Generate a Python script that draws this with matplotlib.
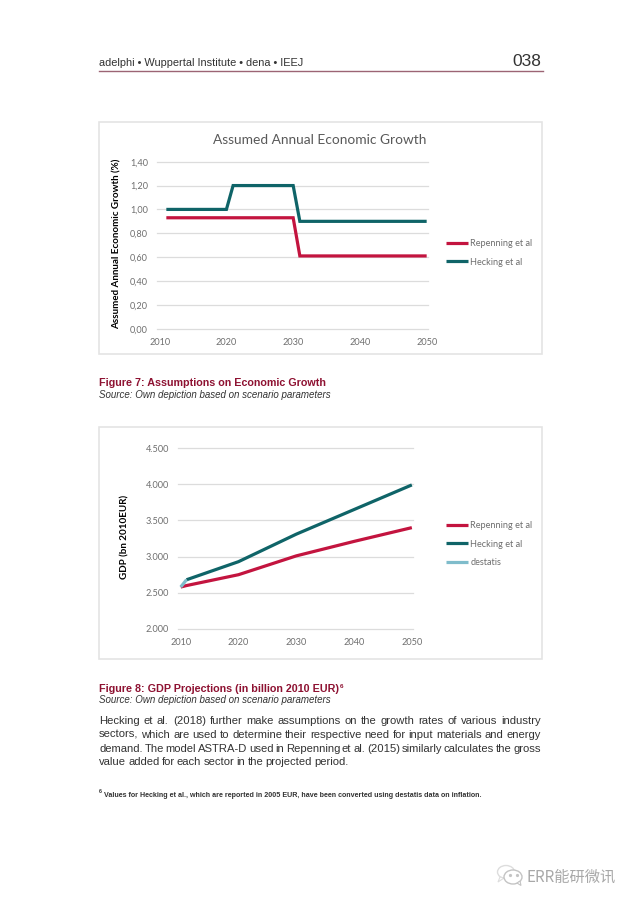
#!/usr/bin/env python3
"""Report page with two line charts: assumed growth and GDP projections."""

import matplotlib
matplotlib.use("Agg")
import matplotlib.pyplot as plt
from matplotlib.patches import Ellipse, Polygon, Rectangle

# Figure 7 data
growth_years = [2011, 2020, 2021, 2030, 2031, 2050]
growth_repenning = [0.93, 0.93, 0.93, 0.93, 0.61, 0.61]
growth_hecking = [1.00, 1.00, 1.20, 1.20, 0.90, 0.90]
growth_yticks = [0.0, 0.2, 0.4, 0.6, 0.8, 1.0, 1.2, 1.4]
growth_ylabels = ["0,00", "0,20", "0,40", "0,60", "0,80", "1,00", "1,20", "1,40"]

# Figure 8 data
repenning_years = [2010, 2011, 2020, 2030, 2040, 2050]
gdp_repenning = [2580, 2600, 2750, 3010, 3210, 3400]
hecking_years = [2011, 2020, 2030, 2040, 2050]
gdp_hecking = [2680, 2930, 3310, 3650, 3990]
destatis_years = [2010, 2011]
destatis_values = [2580, 2680]
gdp_yticks = [2000, 2500, 3000, 3500, 4000, 4500]
gdp_ylabels = ["2.000", "2.500", "3.000", "3.500", "4.000", "4.500"]

decade_ticks = [2010, 2020, 2030, 2040, 2050]

RED = "#c3143f"
TEAL = "#0f6468"
LIGHT_BLUE = "#7fbccb"
GREY = "#6e6e6e"
PAGE_FONT = "Liberation Sans"
CHART_FONT = "Lato"

paragraph = [
    "Hecking et al. (2018) further make assumptions on the growth rates of various industry",
    "sectors, which are used to determine their respective need for input materials and energy",
    "demand. The model ASTRA-D used in Repenning et al. (2015) similarly calculates the gross",
    "value added for each sector in the projected period.",
]

fig = plt.figure(figsize=(6.4, 9.05), dpi=100)
page = fig.add_axes([0, 0, 1, 1])
page.set_xlim(0, 640)
page.set_ylim(905, 0)
page.axis("off")


def chart_axes(left, right, top, bottom):
    """Make an axes from page pixel positions"""
    ax = fig.add_axes([left / 640, 1 - bottom / 905, (right - left) / 640, (bottom - top) / 905])
    ax.patch.set_alpha(0)
    for spine in ax.spines.values():
        spine.set_visible(False)
    ax.grid(True, axis="y", color="#dcdcdc", linewidth=0.9, clip_on=False)
    ax.set_axisbelow(True)
    ax.tick_params(axis="y", length=0, pad=6.5, labelsize=6.6, labelcolor=GREY)
    ax.tick_params(axis="x", length=0, pad=6.5, labelsize=6.6, labelcolor=GREY)
    ax.set_xticks(decade_ticks)
    return ax


def style_chart(ax, ylabel, label_x, label_y, legend_top):
    for label in ax.get_xticklabels() + ax.get_yticklabels():
        label.set_fontfamily(CHART_FONT)
    ax.set_ylabel(ylabel, fontsize=7.1, fontweight="bold", family=CHART_FONT, color="black")
    ax.yaxis.set_label_coords(label_x, label_y, transform=page.transData)
    leg = ax.legend(
        loc="upper left",
        bbox_to_anchor=(446, legend_top),
        bbox_transform=page.transData,
        frameon=False,
        borderpad=0,
        borderaxespad=0,
        handlelength=2.4,
        handletextpad=0.25,
        labelspacing=1.05,
        prop={"family": CHART_FONT, "size": 6.6},
        labelcolor=GREY,
    )
    return leg


# Page header
page.text(99, 66.5, "adelphi • Wuppertal Institute • dena • IEEJ", family=PAGE_FONT, fontsize=7.9, color="#333333")
page.text(541.5, 66.5, "038", family=PAGE_FONT, fontsize=12.5, color="#333333", ha="right")
page.plot([99, 543], [70.7, 70.7], color="#9c6474", linewidth=1)

# Chart frames
for top in [122, 427]:
    page.add_patch(Rectangle((99, top), 443, 232, facecolor="white", edgecolor="#e4e4e4", linewidth=1.2))

# Figure 7
ax1 = chart_axes(157, 428, 161.7, 328.7)
ax1.plot(growth_years, growth_repenning, color=RED, linewidth=2.3, label="Repenning et al",
         solid_joinstyle="miter", solid_capstyle="butt")
ax1.plot(growth_years, growth_hecking, color=TEAL, linewidth=2.3, label="Hecking et al",
         solid_joinstyle="miter", solid_capstyle="butt")
ax1.set_xlim(2009.6, 2050.2)
ax1.set_ylim(0, 1.4)
ax1.set_yticks(growth_yticks)
ax1.set_yticklabels(growth_ylabels)
style_chart(ax1, "Assumed Annual Economic Growth (%)", 122, 244, 238.9)
page.text(320, 140, "Assumed Annual Economic Growth", family=CHART_FONT, fontsize=9.9,
          color="#595959", ha="center", va="center")

# Figure 8
ax2 = chart_axes(178, 413, 448, 629)
ax2.plot(repenning_years, gdp_repenning, color=RED, linewidth=2.3, label="Repenning et al", solid_capstyle="butt")
ax2.plot(hecking_years, gdp_hecking, color=TEAL, linewidth=2.3, label="Hecking et al", solid_capstyle="butt")
ax2.plot(destatis_years, destatis_values, color=LIGHT_BLUE, linewidth=2.3, label="destatis", solid_capstyle="butt")
ax2.set_xlim(2009.53, 2050.2)
ax2.set_ylim(2000, 4500)
ax2.set_yticks(gdp_yticks)
ax2.set_yticklabels(gdp_ylabels)
style_chart(ax2, "GDP (bn 2010EUR)", 129.5, 537, 520.9)

# Captions
page.text(99, 386, "Figure 7: Assumptions on Economic Growth", family=PAGE_FONT, fontsize=7.75,
          fontweight="bold", color="#8e1232")
page.text(99, 397.5, "Source: Own depiction based on scenario parameters", family=PAGE_FONT, fontsize=7,
          style="italic", color="#333333")
page.text(99, 691.5, "Figure 8: GDP Projections (in billion 2010 EUR)", family=PAGE_FONT, fontsize=7.75,
          fontweight="bold", color="#8e1232")
page.text(339.5, 688, "6", family=PAGE_FONT, fontsize=4.6, fontweight="bold", color="#8e1232")
page.text(99, 703, "Source: Own depiction based on scenario parameters", family=PAGE_FONT, fontsize=7,
          style="italic", color="#333333")

# Justified paragraph, word by word
renderer = fig.canvas.get_renderer()
line_ys = [724, 737.5, 751.5, 765]
for line, y in zip(paragraph, line_ys):
    words = line.split(" ")
    texts = [page.text(99, y, w, family=PAGE_FONT, fontsize=8.1, color="#333333") for w in words]
    widths = [t.get_window_extent(renderer).width for t in texts]
    if line.endswith("period."):
        gap = 2.2
    else:
        gap = (541 - 99 - sum(widths)) / (len(words) - 1)
    x = 99
    for t, w in zip(texts, widths):
        t.set_x(x)
        x += w + gap

# Footnote
page.text(99, 793, "6", family=PAGE_FONT, fontsize=3.8, fontweight="bold", color="#333333")
page.text(104.5, 796.5, "Values for Hecking et al., which are reported in 2005 EUR, have been converted using destatis data on inflation.",
          family=PAGE_FONT, fontsize=5.1, fontweight="bold", color="#333333")

# Watermark
wm = "#c4c4c4"
page.add_patch(Ellipse((506, 872), 17, 13, facecolor="white", edgecolor="#dddddd", linewidth=1))
page.add_patch(Polygon([(500, 877), (498, 882), (504, 878)], facecolor="white", edgecolor="#dddddd", linewidth=0.8))
page.add_patch(Ellipse((513, 877), 18, 14, facecolor="white", edgecolor=wm, linewidth=1))
page.add_patch(Polygon([(517, 883), (521, 885.5), (520, 881)], facecolor="white", edgecolor=wm, linewidth=0.8))
page.plot([509.5, 516.5], [874.5, 874.5], linestyle="none", marker="o", markersize=1.3, color=wm)
page.text(527, 877, "ERR能研微讯", family=["Noto Sans CJK SC", "DejaVu Sans"], fontsize=11,
          color="#a8a8a8", va="center")

fig.savefig("out.png", dpi=100)
